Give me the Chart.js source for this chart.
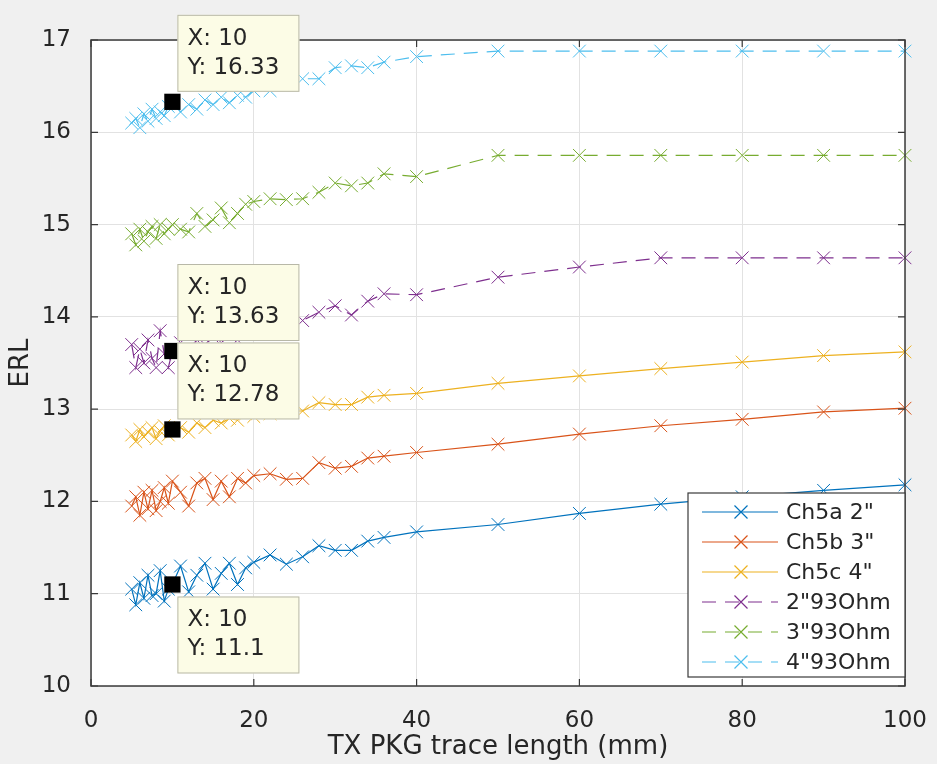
<!DOCTYPE html>
<html>
<head>
<meta charset="utf-8">
<script src="https://cdn.jsdelivr.net/npm/chart.js@4.4.0/dist/chart.umd.min.js"></script>
<style>
    html, body { margin: 0; padding: 0; background: #f0f0f0; }
    #wrap { width: 937px; height: 764px; }
</style>
</head>
<body>
<div id="wrap"><canvas id="erlChart" width="937" height="764"></canvas></div>
<script>
// TX PKG trace length sweep (mm)
const xValues = [5, 5.5, 6, 6.5, 7, 7.5, 8, 8.5, 9, 9.5,
    10, 11, 12, 13, 14, 15, 16, 17, 18, 19, 20,
    22, 24, 26, 28, 30, 32, 34, 36,
    40, 50, 60, 70, 80, 90, 100];

// ERL per channel
const ch5a2 = [11.05, 10.88, 11.12, 10.95, 11.2, 10.98, 11.0, 11.25, 10.92, 11.05,
    11.1, 11.3, 11.02, 11.2, 11.33, 11.05, 11.22, 11.33, 11.1, 11.28, 11.34,
    11.42, 11.32, 11.4, 11.52, 11.47, 11.47, 11.57, 11.61,
    11.67, 11.75, 11.87, 11.97, 12.05, 12.12, 12.18];
const ch5b3 = [11.95, 12.05, 11.85, 12.1, 11.92, 12.12, 11.9, 12.0, 12.15, 11.98,
    12.22, 12.1, 11.95, 12.2, 12.25, 12.02, 12.22, 12.05, 12.25, 12.2, 12.28,
    12.3, 12.24, 12.25, 12.42, 12.36, 12.38, 12.47, 12.49,
    12.53, 12.62, 12.73, 12.82, 12.89, 12.97, 13.01];
const ch5c4 = [12.72, 12.65, 12.78, 12.7, 12.75, 12.8, 12.68, 12.76, 12.82, 12.72,
    12.78, 12.8, 12.75, 12.85, 12.8, 12.88, 12.85, 12.9, 12.88, 12.95, 12.92,
    12.95, 12.98, 12.98, 13.07, 13.05, 13.05, 13.13, 13.15,
    13.17, 13.28, 13.36, 13.44, 13.51, 13.58, 13.62];
const ohm93_2 = [13.7, 13.45, 13.65, 13.5, 13.75, 13.55, 13.45, 13.85, 13.6, 13.45,
    13.63, 13.72, 13.6, 13.75, 13.7, 13.78, 13.72, 13.8, 13.75, 13.85, 13.82,
    13.88, 13.92, 13.96, 14.05, 14.12, 14.02, 14.17, 14.25,
    14.24, 14.43, 14.54, 14.64, 14.64, 14.64, 14.64];
const ohm93_3 = [14.9, 14.78, 14.95, 14.82, 14.92, 14.98, 14.85, 15.0, 14.9, 14.95,
    15.0, 14.95, 14.92, 15.12, 14.98, 15.05, 15.18, 15.02, 15.12, 15.22, 15.25,
    15.28, 15.27, 15.28, 15.35, 15.45, 15.42, 15.45, 15.55,
    15.52, 15.75, 15.75, 15.75, 15.75, 15.75, 15.75];
const ohm93_4 = [16.1, 16.15, 16.05, 16.2, 16.12, 16.25, 16.15, 16.22, 16.18, 16.28,
    16.33, 16.22, 16.3, 16.25, 16.35, 16.3, 16.38, 16.32, 16.4, 16.38, 16.45,
    16.45, 16.52, 16.58, 16.58, 16.7, 16.72, 16.7, 16.76,
    16.82, 16.88, 16.88, 16.88, 16.88, 16.88, 16.88];

const seriesLabels = ['Ch5a 2"', 'Ch5b 3"', 'Ch5c 4"', '2"93Ohm', '3"93Ohm', '4"93Ohm'];
const seriesValues = [ch5a2, ch5b3, ch5c4, ohm93_2, ohm93_3, ohm93_4];
const seriesColors = ['#0072BD', '#D95319', '#EDB120', '#7E2F8E', '#77AC30', '#4DBEEE'];
const seriesDashed = [false, false, false, true, true, true];

const xTicks = [0, 20, 40, 60, 80, 100];
const yTicks = [10, 11, 12, 13, 14, 15, 16, 17];

// data tips shown at x = 10
const tipX = 10;
const tipSeries = [5, 3, 2, 0];
const tipBelow = [false, false, false, true];

const FONT = '"DejaVu Sans", sans-serif';
const TEXT = '#262626';
const DASH = [14, 9];

function toPoints(values) {
    return xValues.map((x, i) => ({ x: x, y: values[i] }));
}

const tipIndex = xValues.indexOf(tipX);

// later series on top, like MATLAB
const datasets = seriesValues.map((values, i) => ({
    label: seriesLabels[i],
    data: toPoints(values),
    order: 10 - i,
    borderColor: seriesColors[i],
    backgroundColor: seriesColors[i],
    borderWidth: 1.2,
    borderDash: seriesDashed[i] ? DASH : [],
    pointStyle: 'crossRot',
    pointRadius: 9,
    pointBorderWidth: 1,
    pointBorderColor: seriesColors[i],
    pointHoverRadius: 9,
    tension: 0,
    fill: false,
    clip: 8
}));

datasets.push({
    label: 'tips',
    data: tipSeries.map(s => ({ x: tipX, y: seriesValues[s][tipIndex] })),
    order: -1,
    showLine: false,
    borderColor: '#000000',
    backgroundColor: '#000000',
    pointStyle: 'rect',
    pointRadius: 11.5,
    pointHoverRadius: 11.5,
    pointBackgroundColor: '#000000',
    pointBorderColor: '#000000',
    pointBorderWidth: 0,
    clip: false
});

// white axes background
const axesBackground = {
    id: 'axesBackground',
    beforeDraw(chart) {
        const { ctx, chartArea: a } = chart;
        ctx.save();
        ctx.fillStyle = '#ffffff';
        ctx.fillRect(a.left, a.top, a.right - a.left, a.bottom - a.top);
        ctx.restore();
    }
};

// MATLAB-like box with inward ticks
const axesBox = {
    id: 'axesBox',
    afterDatasetsDraw(chart) {
        const { ctx, chartArea: a, scales } = chart;
        ctx.save();
        ctx.strokeStyle = '#3a3a3a';
        ctx.lineWidth = 1.5;
        ctx.strokeRect(a.left, a.top, a.right - a.left, a.bottom - a.top);
        ctx.lineWidth = 1.2;
        ctx.beginPath();
        xTicks.forEach(v => {
            const px = scales.x.getPixelForValue(v);
            ctx.moveTo(px, a.bottom); ctx.lineTo(px, a.bottom - 7);
            ctx.moveTo(px, a.top); ctx.lineTo(px, a.top + 7);
        });
        yTicks.forEach(v => {
            const py = scales.y.getPixelForValue(v);
            ctx.moveTo(a.left, py); ctx.lineTo(a.left + 7, py);
            ctx.moveTo(a.right, py); ctx.lineTo(a.right - 7, py);
        });
        ctx.stroke();
        ctx.restore();
    }
};

// data tip boxes
const dataTips = {
    id: 'dataTips',
    afterDatasetsDraw(chart) {
        const { ctx, scales } = chart;
        const w = 122, h = 77;
        ctx.save();
        tipSeries.forEach((s, i) => {
            const yv = seriesValues[s][tipIndex];
            const px = scales.x.getPixelForValue(tipX);
            const py = scales.y.getPixelForValue(yv);
            const left = px + 5;
            const top = tipBelow[i] ? py + 12 : py - 10 - h;
            ctx.fillStyle = '#fcfce6';
            ctx.strokeStyle = '#b8b8a8';
            ctx.lineWidth = 1;
            ctx.fillRect(left, top, w, h);
            ctx.strokeRect(left + 0.5, top + 0.5, w - 1, h - 1);
            ctx.fillStyle = TEXT;
            ctx.font = '23px ' + FONT;
            ctx.textBaseline = 'middle';
            ctx.textAlign = 'left';
            ctx.fillText('X: ' + tipX, left + 10, top + 24);
            ctx.fillText('Y: ' + yv, left + 10, top + 53);
        });
        ctx.restore();
    }
};

// legend inside the axes, lower right
const insideLegend = {
    id: 'insideLegend',
    afterDraw(chart) {
        const { ctx } = chart;
        const left = 688, top = 493, w = 217, h = 184;
        ctx.save();
        ctx.fillStyle = '#ffffff';
        ctx.fillRect(left, top, w, h);
        ctx.strokeStyle = '#3a3a3a';
        ctx.lineWidth = 1.2;
        ctx.strokeRect(left, top, w, h);
        seriesLabels.forEach((label, i) => {
            const y = top + 19 + i * 30;
            ctx.strokeStyle = seriesColors[i];
            ctx.lineWidth = 1.2;
            ctx.setLineDash(seriesDashed[i] ? DASH : []);
            ctx.beginPath();
            ctx.moveTo(left + 14, y);
            ctx.lineTo(left + 90, y);
            ctx.stroke();
            ctx.setLineDash([]);
            const cx = left + 53, r = 6.5;
            ctx.beginPath();
            ctx.moveTo(cx - r, y - r); ctx.lineTo(cx + r, y + r);
            ctx.moveTo(cx - r, y + r); ctx.lineTo(cx + r, y - r);
            ctx.stroke();
            ctx.fillStyle = TEXT;
            ctx.font = '22px ' + FONT;
            ctx.textBaseline = 'middle';
            ctx.fillText(label, left + 98, y + 1);
        });
        ctx.restore();
    }
};

new Chart(document.getElementById('erlChart'), {
    type: 'line',
    data: { datasets: datasets },
    options: {
        responsive: false,
        animation: false,
        devicePixelRatio: 1,
        layout: { autoPadding: false, padding: { left: 0, right: 32, top: 40, bottom: 0 } },
        plugins: {
            legend: { display: false },
            tooltip: { enabled: false }
        },
        scales: {
            x: {
                type: 'linear',
                min: 0,
                max: 100,
                afterBuildTicks: scale => { scale.ticks = xTicks.map(v => ({ value: v })); },
                afterFit: scale => {
                    scale.height = 78;
                    scale.paddingLeft = 0;
                    scale.paddingRight = 0;
                },
                ticks: { font: { family: FONT, size: 23 }, color: TEXT, padding: 21, maxRotation: 0 },
                grid: { color: '#e2e2e2', drawTicks: false },
                border: { display: false },
                title: {
                    display: true,
                    text: 'TX PKG trace length (mm)',
                    color: TEXT,
                    font: { family: FONT, size: 26 },
                    padding: { top: 0, bottom: 1 }
                }
            },
            y: {
                type: 'linear',
                min: 10,
                max: 17,
                afterBuildTicks: scale => { scale.ticks = yTicks.map(v => ({ value: v })); },
                afterFit: scale => {
                    scale.width = 91;
                    scale.paddingTop = 0;
                    scale.paddingBottom = 0;
                },
                ticks: { font: { family: FONT, size: 23 }, color: TEXT, padding: 20 },
                grid: { color: '#e2e2e2', drawTicks: false },
                border: { display: false },
                title: {
                    display: true,
                    text: 'ERL',
                    color: TEXT,
                    font: { family: FONT, size: 26 },
                    padding: { top: 6, bottom: 0 }
                }
            }
        }
    },
    plugins: [axesBackground, axesBox, dataTips, insideLegend]
});
</script>
</body>
</html>
